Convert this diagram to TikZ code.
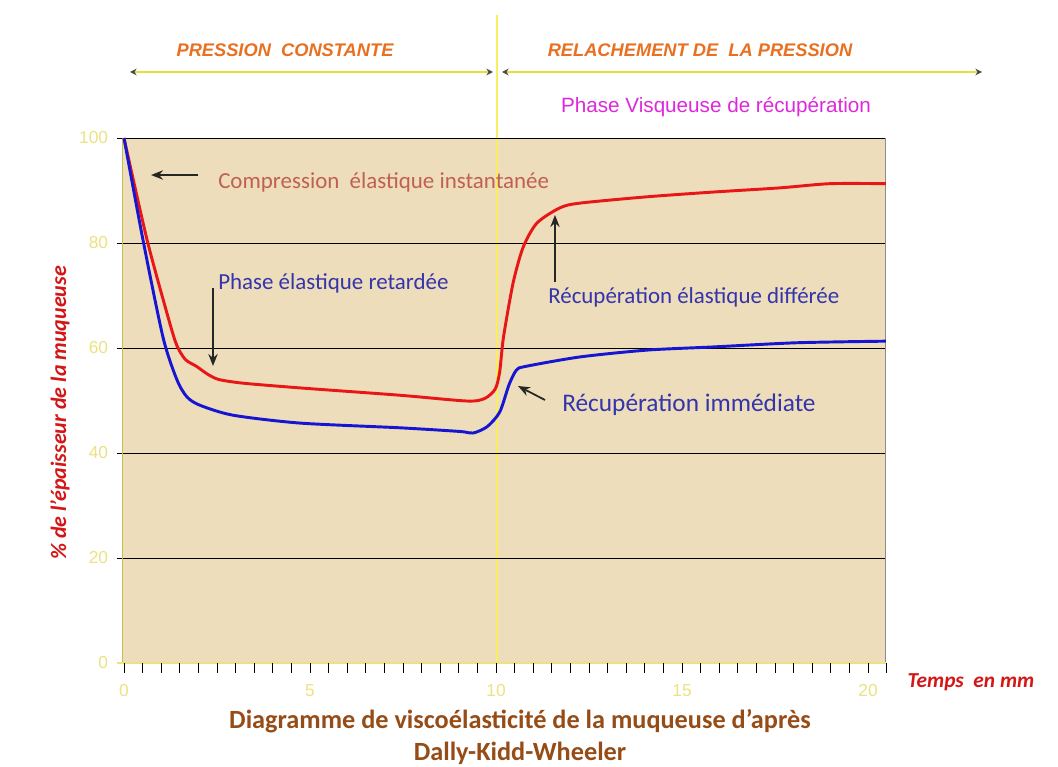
\documentclass[tikz,border=0pt]{standalone}
\usepackage{fontspec}
\setmainfont{Carlito}
\newfontfamily\arialfont{Liberation Sans}
\usetikzlibrary{arrows.meta}

\definecolor{parchment}{RGB}{237,221,186}
\definecolor{curvered}{RGB}{232,22,22}
\definecolor{curveblue}{RGB}{22,22,210}
\definecolor{guideyellow}{RGB}{248,238,96}
\definecolor{spanyellow}{RGB}{226,226,52}
\definecolor{phaseorange}{RGB}{232,112,32}
\definecolor{visqmagenta}{RGB}{222,40,222}
\definecolor{notebrown}{RGB}{192,96,82}
\definecolor{noteblue}{RGB}{52,52,172}
\definecolor{tickyellow}{RGB}{236,226,130}
\definecolor{axisred}{RGB}{212,22,22}
\definecolor{titlebrown}{RGB}{150,76,22}

\tikzset{
  phase/.style={font=\arialfont\bfseries\itshape\fontsize{13.7}{16}\selectfont, text=phaseorange},
  note/.style={font=\fontsize{17.2}{20}\selectfont, inner sep=0pt, anchor=west},
  ticklab/.style={font=\arialfont\fontsize{13}{15}\selectfont, text=tickyellow},
  axislab/.style={font=\bfseries\itshape\fontsize{16.5}{19}\selectfont, text=axisred},
  span/.style={draw=spanyellow, line width=2pt, {Stealth[length=5pt,width=5pt,color=black!70]}-{Stealth[length=5pt,width=5pt,color=black!70]}},
  pointer/.style={-{Stealth[length=9pt,width=7pt]}, line width=1.6pt, black!85},
  curve/.style={line width=2.2pt, smooth, tension=0.45, line join=round}
}

\begin{document}
\begin{tikzpicture}[x=0.75pt, y=-0.75pt]
  \useasboundingbox (0,0) rectangle (1058,767);
  \fill[white] (0,0) rectangle (1058,767);

  % phases at the top
  \node[phase] (pcst) at (285,50) {PRESSION\ \ CONSTANTE};
  \node[phase] (rlch) at (700,50) {RELACHEMENT DE\ \ LA PRESSION};
  \coordinate (sp1a) at (130,72);
  \coordinate (sp1b) at (493,72);
  \coordinate (sp2a) at (502,72);
  \coordinate (sp2b) at (982,72);
  \draw[span] (sp1a) -- (sp1b);
  \draw[span] (sp2a) -- (sp2b);
  \node[font=\arialfont\fontsize{15.5}{18}\selectfont, text=visqmagenta] (visq) at (716,107) {Phase Visqueuse de récupération};

  % chart area
  \fill[parchment] (123,138) rectangle (886,663);
  \draw[guideyellow, line width=0.9pt] (497,15) -- (497,663);

  \begin{scope}[shift={(124,663)}, x=27.9pt, y=3.9375pt]
    \foreach \v in {20,40,60,80,100} {
      \draw[black, line width=0.6pt] (-0.2,\v) -- (20.48,\v);
      \node[ticklab, anchor=east] (yl\v) at (-0.3,\v) {\v};
    }
    \draw[black!45, line width=0.6pt] (20.48,0) -- (20.48,100);
    \draw[guideyellow!80!black, line width=0.8pt] (-0.03,0) -- (-0.03,100);
    \draw[tickyellow, line width=0.9pt] (-0.2,0) -- (20.48,0);
    \foreach \t in {0,0.5,...,20.5}
      \draw[black, line width=0.6pt] (\t,0) -- (\t,-1.9);
    \node[ticklab, anchor=east] (yl0) at (-0.3,0) {0};
    \foreach \t in {0,5,10,15,20}
      \node[ticklab] (xl\t) at (\t,-5.2) {\t};

    % curves
    \draw[curve, curvered] plot coordinates {(0,100) (0.62,80.6) (1.2,65.5) (1.42,60.5) (1.65,57.8) (1.95,56.5) (2.25,55) (2.55,54) (3.2,53.3) (4.73,52.4) (7.42,51) (9.22,49.9) (9.7,50.4) (9.98,52.2) (10.1,55.5) (10.2,62) (10.46,72.4) (10.73,79.2) (11.1,83.8) (11.72,86.7) (12.26,87.6) (14.06,88.8) (15.83,89.7) (17.63,90.5) (18.98,91.3) (20.48,91.3)};
    \draw[curve, curveblue] plot coordinates {(0,100) (0.51,80.6) (1.05,62) (1.42,54) (1.69,50.7) (2.04,49.1) (2.93,47.2) (4.73,45.7) (7.42,44.8) (9.03,44.1) (9.38,43.8) (9.76,45) (10.1,47.8) (10.35,53) (10.55,55.8) (10.8,56.5) (12.26,58.3) (14.06,59.6) (15.83,60.2) (18.09,61) (20.48,61.3)};
  \end{scope}

  % annotations
  \node[note, text=notebrown] (cmp) at (218,182) {Compression\ \ élastique instantanée};
  \coordinate (cmpt) at (198,175);
  \coordinate (cmph) at (151,175);
  \draw[pointer] (cmpt) -- (cmph);

  \node[note, text=noteblue] (ret) at (218,283) {Phase élastique retardée};
  \coordinate (rett) at (213,288);
  \coordinate (reth) at (213,366);
  \draw[pointer] (rett) -- (reth);

  \node[note, text=noteblue] (dif) at (548,297) {Récupération élastique différée};
  \coordinate (dift) at (555,282);
  \coordinate (difh) at (555,215);
  \draw[pointer] (dift) -- (difh);

  \node[note, text=noteblue, font=\fontsize{19}{22}\selectfont] (imm) at (562,405) {Récupération immédiate};
  \coordinate (immt) at (545,400);
  \coordinate (immh) at (518,386);
  \draw[pointer, line width=1.3pt] (immt) -- (immh);

  % axis titles
  \node[axislab, rotate=90] (ylab) at (60,413) {\% de l'épaisseur de la muqueuse};
  \node[axislab, font=\bfseries\itshape\fontsize{16}{19}\selectfont] (xlab) at (971,682) {Temps\ \ en mm};
  \node[font=\bfseries\fontsize{19.7}{23.5}\selectfont, text=titlebrown, align=center] (ttl) at (520,737) {Diagramme de viscoélasticité de la muqueuse d'après\\Dally-Kidd-Wheeler};
\end{tikzpicture}
\end{document}
